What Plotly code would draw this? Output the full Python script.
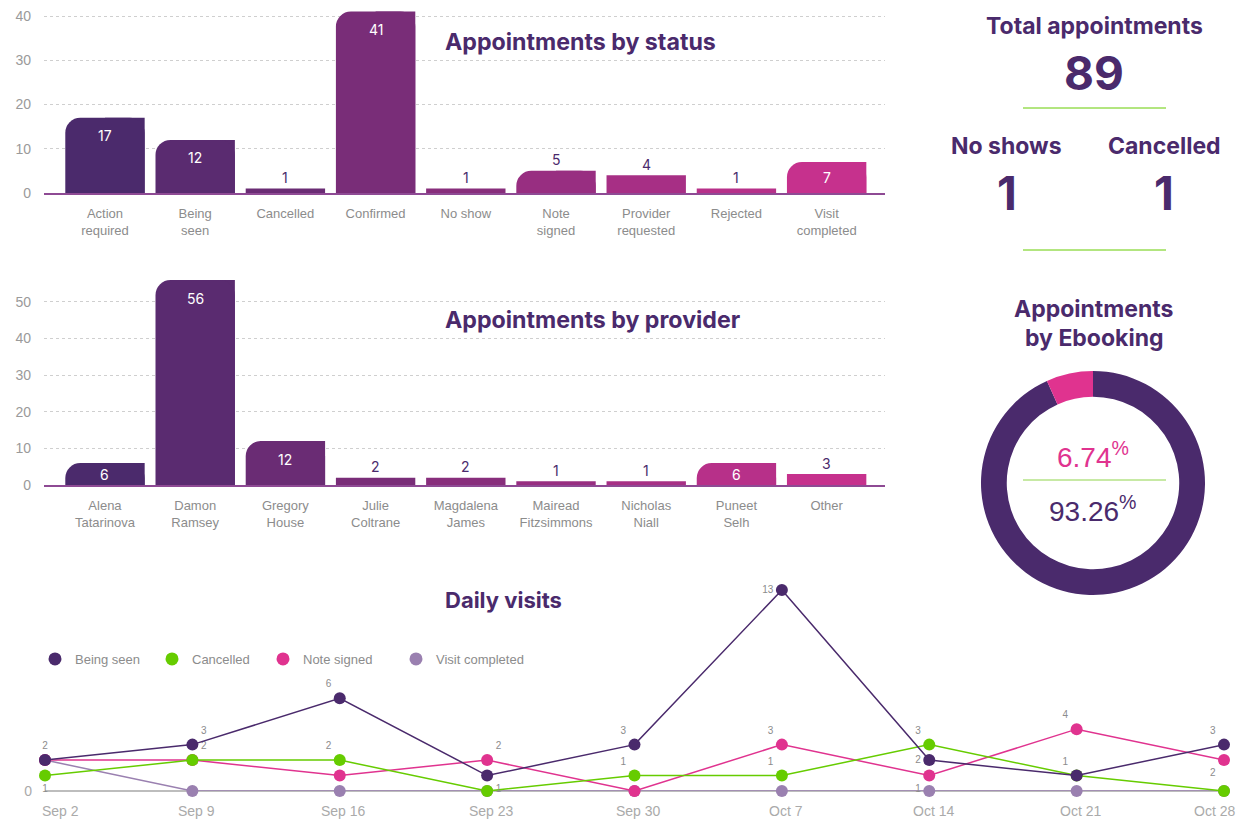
import plotly.graph_objects as go

# ---------------- data ----------------
status_cats = ["Action<br>required", "Being<br>seen", "Cancelled", "Confirmed", "No show",
               "Note<br>signed", "Provider<br>requested", "Rejected", "Visit<br>completed"]
status_vals = [17, 12, 1, 41, 1, 5, 4, 1, 7]

provider_cats = ["Alena<br>Tatarinova", "Damon<br>Ramsey", "Gregory<br>House", "Julie<br>Coltrane",
                 "Magdalena<br>James", "Mairead<br>Fitzsimmons", "Nicholas<br>Niall", "Puneet<br>Selh", "Other"]
provider_vals = [6, 56, 12, 2, 2, 1, 1, 6, 3]

ebooking_labels = ["Not Ebooking", "Ebooking"]
ebooking_vals = [83, 6]

weeks = ["Sep 2", "Sep 9", "Sep 16", "Sep 23", "Sep 30", "Oct 7", "Oct 14", "Oct 21", "Oct 28"]
being_seen = [2, 3, 6, 1, 3, 13, 2, 1, 3]
cancelled = [1, 2, 2, 0, 1, 1, 3, 1, 0]
note_signed = [2, 2, 1, 2, 0, 3, 1, 4, 2]
visit_completed = [2, 0, 0, 0, 0, 0, 0, 0, 0]

# which points carry a value label, and where
being_seen_lbl = [True] * 9
being_seen_pos = ["top center", "top right", "top left", "bottom right", "top left",
                  "middle left", "middle left", "top left", "top left"]
cancelled_lbl = [True, True, True, False, True, True, True, False, False]
cancelled_pos = ["bottom center", "top right", "top left", "top left", "top left",
                 "top left", "top left", "top left", "top left"]
note_lbl = [False, False, False, True, False, True, True, True, True]
note_pos = ["top left", "top left", "top left", "top right", "top left",
            "top left", "bottom left", "top left", "bottom left"]

# ---------------- style ----------------
OFF = 8                      # page body margin
W, H = 1245 - OFF, 820 - OFF
PURPLE = "#4a2a6c"
PINK = "#e0338f"
GREEN = "#66cc00"
LAVENDER = "#9a80b0"
GREY = "#8c8c8c"
TITLE_FONT = "Inter, Liberation Sans, sans-serif"
BODY_FONT = "Liberation Sans, Arial, sans-serif"
INSIDE_MIN = 6  # bars at least this tall carry their label inside
LEGEND_X = [35, 152, 263, 396]   # left edge (px) of each legend entry


def px_x(p):
    return (p - OFF) / W


def px_y(p):
    return 1 - (p - OFF) / H


def gradient(n, c0=(0x4b, 0x2a, 0x6c), c1=(0xc6, 0x31, 0x8d)):
    out = []
    for i in range(n):
        t = i / (n - 1)
        out.append("rgb(%d,%d,%d)" % tuple(round(a + (b - a) * t) for a, b in zip(c0, c1)))
    return out


fig = go.Figure()
ann = []


def add_bars(cats, vals, xa, ya, px_per_unit):
    cols = gradient(len(vals))
    rounded = [v if v >= 5 else None for v in vals]
    square = [v if v < 5 else None for v in vals]
    # right half (square top-right corner) under rounded bars
    fig.add_trace(go.Bar(x=cats, y=rounded, width=0.44, offset=0, marker=dict(color=cols, line=dict(width=0)),
                         xaxis=xa, yaxis=ya, hoverinfo="skip", showlegend=False))
    fig.add_trace(go.Bar(x=cats, y=square, width=0.88, offset=-0.44,
                         marker=dict(color=cols, line=dict(width=0)),
                         xaxis=xa, yaxis=ya, hoverinfo="skip", showlegend=False))
    fig.add_trace(go.Bar(x=cats, y=rounded, width=0.88, offset=-0.44,
                         marker=dict(color=cols, line=dict(width=0), cornerradius=15),
                         xaxis=xa, yaxis=ya, hoverinfo="skip", showlegend=False))
    for c, v in zip(cats, vals):
        inside = v >= INSIDE_MIN
        shift = -min(18, v * px_per_unit / 2) if inside else 11
        ann.append(dict(x=c, y=v, xref=xa, yref=ya, text=str(v), showarrow=False, yshift=shift,
                        xanchor="center", yanchor="middle",
                        font=dict(size=14, color="white" if inside else PURPLE, family=TITLE_FONT)))


add_bars(status_cats, status_vals, "x", "y", 4.425)
add_bars(provider_cats, provider_vals, "x2", "y2", 3.66)

# ---------------- donut ----------------
fig.add_trace(go.Pie(labels=ebooking_labels, values=ebooking_vals, hole=0.77, sort=False,
                     direction="clockwise", rotation=0,
                     marker=dict(colors=[PURPLE, PINK], line=dict(width=0)),
                     textinfo="none", hoverinfo="skip", showlegend=False,
                     domain=dict(x=[px_x(981), px_x(1205)], y=[px_y(595), px_y(371)])))

# ---------------- line chart ----------------
series = [
    ("Being seen", being_seen, PURPLE, being_seen_lbl, being_seen_pos),
    ("Cancelled", cancelled, GREEN, cancelled_lbl, cancelled_pos),
    ("Note signed", note_signed, PINK, note_lbl, note_pos),
    ("Visit completed", visit_completed, LAVENDER, [False] * 9, ["top left"] * 9),
]
legend_ids = ["legend", "legend2", "legend3", "legend4"]
# legend-only entries, one legend each so they can be spaced like the original
for (name, vals, col, _, _), lid in zip(series, legend_ids):
    fig.add_trace(go.Scatter(x=[None], y=[None], mode="markers", name=name, legend=lid,
                             marker=dict(color=col, size=13), xaxis="x3", yaxis="y3"))
for name, vals, col, lbl, pos in reversed(series):
    fig.add_trace(go.Scatter(x=weeks, y=vals, mode="lines+markers+text", name=name, showlegend=False,
                             line=dict(color=col, width=1.5), marker=dict(color=col, size=12),
                             text=[str(v) if s else "" for v, s in zip(vals, lbl)], textposition=pos,
                             textfont=dict(size=10, color=GREY, family=BODY_FONT),
                             cliponaxis=False, xaxis="x3", yaxis="y3", hoverinfo="skip"))

# week labels (end labels kept inside the chart edges)
for i, wk in enumerate(weeks):
    if i == 0:
        xa, xs = "left", -5
    elif i == len(weeks) - 1:
        xa, xs = "right", 13
    else:
        xa, xs = "center", 4
    ann.append(dict(x=wk, y=px_y(811), xref="x3", yref="paper", text=wk, showarrow=False,
                    xanchor=xa, yanchor="middle", xshift=xs,
                    font=dict(size=14, color="#aaaaaa", family=BODY_FONT)))

# ---------------- layout ----------------
bar_x = dict(range=[-0.676, 8.647], showgrid=False, showline=True, linecolor="#8e4a94", linewidth=1.5,
             ticks="", tickfont=dict(size=13, color=GREY, family=BODY_FONT), ticklabelstandoff=8,
             fixedrange=True, automargin=False, domain=[px_x(44), px_x(885)])
bar_y = dict(showgrid=True, gridcolor="#cfcfcf", griddash="3px,3px", gridwidth=1, zeroline=False,
             ticks="", tickfont=dict(size=14, color="#9a9a9a", family=BODY_FONT), ticklabelstandoff=12,
             ticklabeloverflow="allow", showline=False, automargin=False, fixedrange=True)


def text(x, y, s, size, color=PURPLE, bold=True, family=TITLE_FONT, xanchor="center"):
    ann.append(dict(x=px_x(x), y=px_y(y), xref="paper", yref="paper", text=("<b>%s</b>" % s) if bold else s,
                    showarrow=False, xanchor=xanchor, yanchor="middle",
                    font=dict(size=size, color=color, family=family)))


text(443, 42, "Appointments by status", 23.2, xanchor="left")
text(443, 320, "Appointments by provider", 23.2, xanchor="left")
text(503, 600, "Daily visits", 22)

total = sum(status_vals)
no_shows = status_vals[status_cats.index("No show")]
canc = status_vals[status_cats.index("Cancelled")]
text(1094, 26, "Total appointments", 23)
text(1094, 73, str(total), 46)
text(1007, 146, "No shows", 23)
text(1164, 146, "Cancelled", 23)
text(1007, 193, str(no_shows), 46)
text(1164, 193, str(canc), 46)
text(1094, 309, "Appointments", 23)
text(1094, 338, "by Ebooking", 23)

pct_e = ebooking_vals[ebooking_labels.index("Ebooking")] / sum(ebooking_vals) * 100
pct_o = ebooking_vals[ebooking_labels.index("Not Ebooking")] / sum(ebooking_vals) * 100
text(1093, 455, "%.2f<sup>%%</sup>" % pct_e, 28, color=PINK, bold=False, family=BODY_FONT)
text(1093, 509, "%.2f<sup>%%</sup>" % pct_o, 28, color=PURPLE, bold=False, family=BODY_FONT)

shapes = []
for y in (108, 250, 480):
    shapes.append(dict(type="line", xref="paper", yref="paper", x0=px_x(1023), x1=px_x(1166),
                       y0=px_y(y), y1=px_y(y), line=dict(color="#8fd44a" if y == 480 else GREEN, width=1)))

legends = {}
for lid, lx in zip(legend_ids, LEGEND_X):
    legends[lid] = dict(orientation="h", x=px_x(lx), y=px_y(659), xanchor="left", yanchor="middle",
                        font=dict(size=13, color=GREY, family=BODY_FONT), bgcolor="rgba(0,0,0,0)",
                        itemsizing="trace")

fig.update_layout(
    width=W, height=H, margin=dict(l=0, r=0, t=0, b=0, autoexpand=False),
    paper_bgcolor="white", plot_bgcolor="white",
    barmode="overlay", font=dict(family=BODY_FONT),
    xaxis=dict(**bar_x, anchor="y"),
    yaxis=dict(**bar_y, range=[0, (193 - OFF) / 4.425], tickvals=[0, 10, 20, 30, 40],
               domain=[px_y(193), px_y(OFF)], anchor="x"),
    xaxis2=dict(**bar_x, anchor="y2"),
    yaxis2=dict(**bar_y, range=[0, 58], tickvals=[0, 10, 20, 30, 40, 50],
                domain=[px_y(485), px_y(272.7)], anchor="x2"),
    xaxis3=dict(type="category", range=[0, 8], showgrid=False, showline=False, ticks="",
                showticklabels=False,
                automargin=False, domain=[px_x(45), px_x(1224)], anchor="y3", fixedrange=True),
    yaxis3=dict(range=[0, 13], tickvals=[0], showgrid=False, zeroline=True, zerolinecolor="#bdbdbd",
                zerolinewidth=1.5, showline=False, ticks="", automargin=False,
                tickfont=dict(size=14, color="#aaaaaa", family=BODY_FONT), ticklabelstandoff=12,
                domain=[px_y(791), px_y(590)], anchor="x3", fixedrange=True),
    annotations=ann, shapes=shapes,
    **legends,
)

fig.write_html("out.html")
